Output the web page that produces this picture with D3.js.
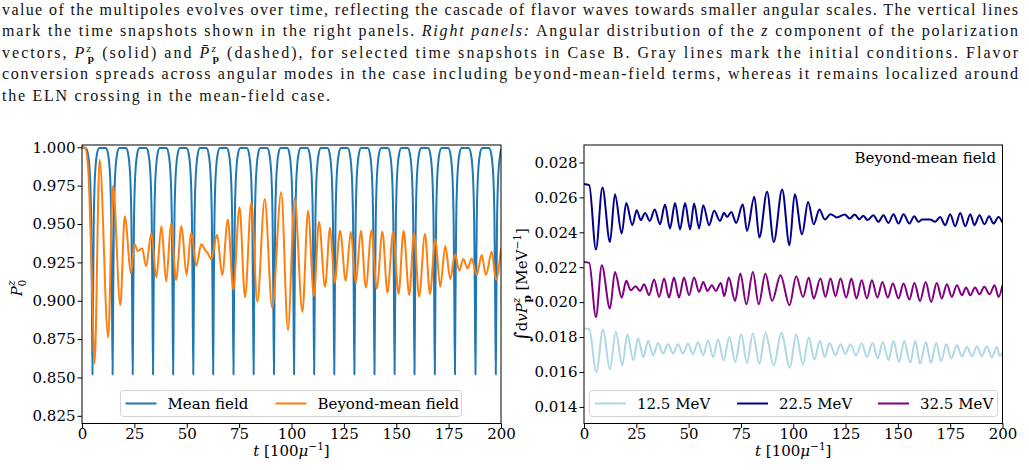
<!DOCTYPE html>
<meta charset="utf-8">
<title>Multipole evolution and energy-integrated polarization</title>
<style>
    body {
        margin: 0;
        background: #fff;
    }

    svg {
        display: block;
    }
</style>

<body>
    <svg width="1029" height="470"></svg>

    <script src="https://d3js.org/d3.v7.min.js"></script>
    <script>
        // ---- values ----
        const xTicks = [0, 25, 50, 75, 100, 125, 150, 175, 200];
        const leftYTicks = [0.825, 0.85, 0.875, 0.9, 0.925, 0.95, 0.975, 1.0];
        const rightYTicks = [0.014, 0.016, 0.018, 0.020, 0.022, 0.024, 0.026, 0.028];

        // mean field: times of the minima and the shape of one dip (offset in t, P0z)
        const meanFieldDips = [5.0, 14.6, 24.2, 33.9, 43.5, 53.1, 62.6, 72.3, 81.9, 91.6, 101.2,
            110.8, 120.4, 130.0, 139.6, 149.2, 158.7, 168.4, 178.0, 187.8, 197.5];
        const meanFieldDipShape = [[-3.2, 0.9995], [-2.2, 0.996], [-1.5, 0.988], [-1.0, 0.975], [-0.6, 0.95],
            [-0.3, 0.905], [0, 0.852], [0.3, 0.905], [0.6, 0.95], [1.0, 0.975], [1.5, 0.988],
            [2.2, 0.996], [3.2, 0.9995]];

        // beyond-mean field P0z (extrema and a few shoulder points)
        const beyondMF = [[0, 1.0], [1.5, 0.9995], [3.0, 0.985], [4.5, 0.925], [6.0, 0.859], [8.4, 0.992],
            [12.5, 0.876], [14.8, 0.975], [18.3, 0.897], [20.4, 0.955], [23.4, 0.918], [25.0, 0.937],
            [26.6, 0.9325], [28.7, 0.934], [30.6, 0.9225], [33.1, 0.944], [35.5, 0.915], [37.9, 0.9487],
            [40.2, 0.9124], [42.5, 0.9504], [44.9, 0.9135], [47.5, 0.9487], [49.9, 0.9167], [52.1, 0.9443],
            [54.6, 0.9226], [56.9, 0.9369], [58.8, 0.933], [60.0, 0.931], [61.7, 0.927], [64.5, 0.943],
            [66.9, 0.9167], [69.6, 0.953], [72.2, 0.9074], [75.2, 0.9609], [77.8, 0.9022], [80.8, 0.9641],
            [83.7, 0.8993], [87.2, 0.9663], [90.8, 0.8954], [95.1, 0.9707], [98.3, 0.881], [101.5, 0.9667],
            [105.2, 0.8928], [107.9, 0.9587], [110.7, 0.903], [113.1, 0.9515], [116.0, 0.9091], [118.4, 0.9478],
            [120.6, 0.9117], [123.2, 0.9456], [125.9, 0.913], [128.3, 0.945], [130.7, 0.9113], [133.1, 0.9456],
            [135.5, 0.9087], [138.2, 0.946], [140.7, 0.908], [143.4, 0.945], [145.8, 0.9052], [148.5, 0.945],
            [151.1, 0.9044], [153.5, 0.9456], [156.2, 0.9037], [158.5, 0.9443], [160.9, 0.9026], [163.7, 0.9435],
            [166.1, 0.9044], [168.6, 0.9402], [171.0, 0.9091], [173.4, 0.9356], [175.8, 0.914], [178.0, 0.9304],
            [180.1, 0.9196], [182.0, 0.9272], [184.1, 0.9211], [186.0, 0.9276], [188.4, 0.9167], [190.8, 0.9298],
            [192.8, 0.9167], [195.6, 0.932], [197.6, 0.9135], [200, 0.934]];

        // right panel: integrated P^z for three energies
        const e125 = [[0, 0.01849], [2.5, 0.01845], [5.9, 0.016], [9.1, 0.01843], [12.4, 0.01614], [15.2, 0.0183],
            [18.3, 0.01638], [20.7, 0.01816], [23.6, 0.01667], [25.8, 0.01792], [28.4, 0.01686], [30.6, 0.01778],
            [33.1, 0.01696], [35.4, 0.01766], [37.8, 0.01706], [40.2, 0.01759], [42.6, 0.01706], [44.9, 0.01759],
            [47.3, 0.01706], [49.7, 0.01763], [52.1, 0.01702], [54.5, 0.01772], [56.9, 0.01696], [59.3, 0.01781],
            [61.7, 0.01686], [64.1, 0.01786], [66.7, 0.01667], [69.5, 0.01801], [72.3, 0.01657], [75.1, 0.01816],
            [77.9, 0.01652], [80.7, 0.0182], [83.8, 0.01648], [86.7, 0.01824], [90.7, 0.01638], [94.3, 0.01824],
            [98.4, 0.01625], [101.4, 0.01816], [104.6, 0.01644], [107.4, 0.01797], [110.1, 0.01671], [112.7, 0.01778],
            [115.1, 0.01686], [117.3, 0.01766], [120.2, 0.01696], [122.6, 0.01759], [124.9, 0.01702], [127.3, 0.01759],
            [130.0, 0.01696], [132.7, 0.01765], [135.2, 0.01686], [137.9, 0.01766], [140.4, 0.01677], [142.8, 0.01772],
            [145.5, 0.01667], [147.9, 0.01778], [150.6, 0.01657], [153.0, 0.01778], [155.9, 0.01652], [158.3, 0.01778],
            [160.6, 0.01648], [163.4, 0.01772], [165.8, 0.01652], [168.3, 0.01766], [170.7, 0.01663], [173.1, 0.01759],
            [175.5, 0.01677], [178.2, 0.01753], [180.6, 0.0169], [183.0, 0.01743], [185.4, 0.0169], [187.8, 0.01747],
            [190.1, 0.0169], [192.5, 0.01747], [194.9, 0.01686], [197.3, 0.01743], [198.7, 0.0169], [200, 0.0172]];

        const e225 = [[0, 0.02676], [2.5, 0.0267], [5.7, 0.02301], [8.8, 0.02657], [12.4, 0.02345], [14.8, 0.02618],
            [18.0, 0.02393], [20.2, 0.02568], [23.1, 0.02441], [25.2, 0.02527], [27.1, 0.0247], [29.2, 0.02511],
            [31.4, 0.02465], [33.8, 0.02531], [36.3, 0.02446], [38.7, 0.02559], [41.1, 0.02422], [43.5, 0.02568],
            [45.9, 0.02416], [48.3, 0.02568], [50.7, 0.02416], [52.6, 0.02565], [55.0, 0.02422], [57.0, 0.02555],
            [59.8, 0.02441], [62.2, 0.02523], [65.0, 0.02465], [66.9, 0.0251], [68.4, 0.02488], [70.4, 0.02517],
            [72.7, 0.02454], [75.9, 0.02561], [77.9, 0.02408], [81.4, 0.02603], [83.8, 0.0237], [87.5, 0.02632],
            [90.7, 0.02345], [94.7, 0.02645], [98.2, 0.02326], [100.7, 0.02618], [104.2, 0.02389], [107.1, 0.02574],
            [109.8, 0.02446], [112.5, 0.02531], [115.1, 0.02473], [117.8, 0.02504], [120.9, 0.02485], [124.6, 0.02502],
            [127.0, 0.02479], [129.4, 0.02502], [131.6, 0.02475], [133.5, 0.02495], [135.5, 0.0247], [138.3, 0.02498],
            [140.7, 0.0246], [143.1, 0.02498], [145.5, 0.02454], [147.9, 0.02504], [150.3, 0.0245], [152.7, 0.02504],
            [155.5, 0.0245], [157.8, 0.02492], [159.8, 0.0246], [161.6, 0.02473], [165.4, 0.02473], [167.8, 0.0246],
            [170.2, 0.02488], [172.6, 0.02441], [175.0, 0.02504], [177.4, 0.02435], [179.8, 0.02511], [182.2, 0.02435],
            [184.6, 0.02504], [186.6, 0.02441], [189.0, 0.02498], [191.4, 0.02446], [193.6, 0.02492], [195.7, 0.0245],
            [198.1, 0.02488], [200, 0.02454]];

        const e325 = [[0, 0.0223], [2.5, 0.02225], [5.7, 0.01915], [8.5, 0.02211], [12.4, 0.01963], [14.8, 0.02173],
            [18.0, 0.02026], [20.2, 0.02122], [22.3, 0.02068], [24.7, 0.02091], [26.8, 0.02064], [28.7, 0.02103],
            [31.1, 0.0204], [33.5, 0.0213], [35.9, 0.0203], [38.3, 0.02135], [40.6, 0.02026], [43.0, 0.02141],
            [45.4, 0.02026], [47.8, 0.02141], [50.2, 0.0204], [52.6, 0.02141], [55.0, 0.02059], [57.0, 0.02116],
            [59.0, 0.02064], [61.1, 0.02097], [63.0, 0.02064], [65.4, 0.0211], [67.0, 0.02034], [69.2, 0.02141],
            [72.2, 0.02007], [74.7, 0.02164], [77.6, 0.01988], [80.7, 0.02173], [83.5, 0.01988], [86.7, 0.02164],
            [89.9, 0.02007], [93.9, 0.02154], [98.2, 0.01982], [101.4, 0.02148], [104.7, 0.0203], [107.4, 0.02141],
            [109.8, 0.02021], [113.0, 0.02135], [115.4, 0.0203], [117.8, 0.02135], [120.2, 0.02034], [122.6, 0.02135],
            [125.3, 0.02026], [127.8, 0.02135], [130.2, 0.02021], [132.7, 0.02125], [135.2, 0.02021], [137.6, 0.02126],
            [140.2, 0.02026], [142.6, 0.02116], [145.2, 0.02026], [147.6, 0.02107], [150.3, 0.02021], [152.7, 0.02107],
            [155.5, 0.02015], [157.9, 0.0211], [160.6, 0.02007], [163.3, 0.02116], [165.9, 0.02001], [168.6, 0.0211],
            [171.0, 0.02021], [173.4, 0.02103], [175.8, 0.0203], [178.2, 0.02097], [180.6, 0.0204], [182.6, 0.02084],
            [184.6, 0.0204], [186.9, 0.02084], [189.0, 0.02045], [191.3, 0.02088], [193.8, 0.02045], [196.2, 0.02097],
            [198.1, 0.0203], [200, 0.02097]];

        const leftSeries = [
            { name: "Mean field", color: "#1f77b4" },
            { name: "Beyond-mean field", color: "#ff7f0e", data: beyondMF }
        ];
        const rightSeries = [
            { name: "12.5 MeV", color: "#add8e6", data: e125 },
            { name: "22.5 MeV", color: "#00008b", data: e225 },
            { name: "32.5 MeV", color: "#800080", data: e325 }
        ];

        // build the mean-field curve from the dip times and the dip profile
        const meanField = [[0, 1.0]];
        meanFieldDips.forEach(t0 => {
            meanFieldDipShape.forEach(([dt, v]) => {
                const t = t0 + dt;
                if (t > 0 && t <= 200) meanField.push([t, v]);
            });
        });
        meanField.push([200, 0.999]);
        leftSeries[0].data = meanField;

        const svg = d3.select("svg");
        const serif = "DejaVu Serif";

        // ---- caption text above the plots ----
        function addRuns(sel, runs) {
            runs.forEach(r => {
                const ts = sel.append("tspan").text(r.t);
                if (r.i) ts.attr("font-style", "italic");
                if (r.b) ts.attr("font-weight", "bold");
                if (r.s) ts.attr("font-size", r.s);
                if (r.dx) ts.attr("dx", r.dx);
                if (r.dy) ts.attr("dy", r.dy);
            });
        }

        const captionLines = [
            [{ t: "value of the multipoles evolves over time, reflecting the cascade of flavor waves towards smaller angular scales. The vertical lines" }],
            [{ t: "mark the time snapshots shown in the right panels. " }, { t: "Right panels:", i: 1 },
            { t: " Angular distribution of the " }, { t: "z", i: 1 }, { t: " component of the polarization" }],
            [{ t: "vectors, " }, { t: "P", i: 1 }, { t: "z", i: 1, s: "0.7em", dy: -6 }, { t: "p", b: 1, s: "0.7em", dx: -5, dy: 10 },
            { t: " (solid) and ", dy: -4 }, { t: "P\u0304", i: 1 }, { t: "z", i: 1, s: "0.7em", dy: -6 },
            { t: "p", b: 1, s: "0.7em", dx: -5, dy: 10 },
            { t: " (dashed), for selected time snapshots in Case B. Gray lines mark the initial conditions. Flavor", dy: -4 }],
            [{ t: "conversion spreads across angular modes in the case including beyond-mean-field terms, whereas it remains localized around" }],
            [{ t: "the ELN crossing in the mean-field case." }]
        ];
        const captionWidths = [1016, 1016, 1016, 1016, 328];

        const cap = svg.append("g")
            .attr("font-family", "Liberation Serif")
            .attr("font-size", 16)
            .attr("fill", "#111");

        captionLines.forEach((runs, i) => {
            const txt = cap.append("text")
                .attr("x", 2)
                .attr("y", 15 + 21.4 * i)
                .attr("textLength", captionWidths[i])
                .attr("lengthAdjust", "spacing");
            addRuns(txt, runs);
        });

        // ---- panels ----
        function panel(opt) {
            const { x, y, yTicks, yFormat, series, id } = opt;
            const g = svg.append("g");

            g.append("clipPath").attr("id", id)
                .append("rect")
                .attr("x", x.range()[0]).attr("y", y.range()[1])
                .attr("width", x.range()[1] - x.range()[0])
                .attr("height", y.range()[0] - y.range()[1]);

            const line = d3.line()
                .x(d => x(d[0]))
                .y(d => y(d[1]))
                .curve(d3.curveMonotoneX);

            g.append("g").attr("clip-path", `url(#${id})`)
                .selectAll("path")
                .data(series)
                .join("path")
                .attr("d", d => line(d.data))
                .attr("fill", "none")
                .attr("stroke", d => d.color)
                .attr("stroke-width", 2)
                .attr("stroke-linejoin", "round");

            const xAxis = g.append("g")
                .attr("transform", `translate(0,${y.range()[0]})`)
                .call(d3.axisBottom(x).tickValues(xTicks).tickSize(4.5).tickPadding(0.5).tickFormat(d3.format("d")));
            const yAxis = g.append("g")
                .attr("transform", `translate(${x.range()[0]},0)`)
                .call(d3.axisLeft(y).tickValues(yTicks).tickSize(4.5).tickPadding(2).tickFormat(yFormat));

            [xAxis, yAxis].forEach(a => {
                a.attr("font-family", serif).attr("font-size", 15);
                a.select(".domain").remove();
                a.selectAll("line").attr("stroke", "#000").attr("stroke-width", 1);
                a.selectAll("text").attr("fill", "#000");
            });

            g.append("rect")
                .attr("x", x.range()[0]).attr("y", y.range()[1])
                .attr("width", x.range()[1] - x.range()[0])
                .attr("height", y.range()[0] - y.range()[1])
                .attr("fill", "none")
                .attr("stroke", "#000")
                .attr("stroke-width", 1);

            // x label: t [100 mu^-1]
            const xl = g.append("text")
                .attr("x", (x.range()[0] + x.range()[1]) / 2)
                .attr("y", 456)
                .attr("text-anchor", "middle")
                .attr("font-family", serif)
                .attr("font-size", 15);
            addRuns(xl, [{ t: "t", i: 1 }, { t: " [100" }, { t: "μ", i: 1 }, { t: "−1", s: 10.5, dy: -6 }, { t: "]", dy: 6 }]);

            return g;
        }

        function legend(g, items, box, slots) {
            const lg = g.append("g");
            lg.append("rect")
                .attr("x", box[0]).attr("y", box[1])
                .attr("width", box[2]).attr("height", box[3])
                .attr("rx", 3)
                .attr("fill", "#fff").attr("fill-opacity", 0.8)
                .attr("stroke", "#d3d3d3").attr("stroke-width", 1);
            const cy = box[1] + box[3] / 2;
            items.forEach((s, i) => {
                const x0 = slots[i];
                lg.append("line")
                    .attr("x1", x0).attr("x2", x0 + 31)
                    .attr("y1", cy).attr("y2", cy)
                    .attr("stroke", s.color).attr("stroke-width", 2);
                lg.append("text")
                    .attr("x", x0 + 42).attr("y", cy + 5.5)
                    .attr("font-family", serif).attr("font-size", 15)
                    .text(s.name);
            });
        }

        // left panel
        const xL = d3.scaleLinear().domain([0, 200]).range([82, 501]);
        const yL = d3.scaleLinear().domain([0.8200, 1.0015]).range([423.5, 145]);
        const gL = panel({ x: xL, y: yL, yTicks: leftYTicks, yFormat: d3.format(".3f"), series: leftSeries, id: "clipL" });
        legend(gL, leftSeries, [120.5, 390.5, 341, 26], [125.5, 275.5]);

        const ylL = gL.append("text")
            .attr("transform", "translate(22,288) rotate(-90)")
            .attr("text-anchor", "middle")
            .attr("font-family", serif)
            .attr("font-size", 15);
        addRuns(ylL, [{ t: "P", i: 1 }, { t: "z", i: 1, s: 10.5, dy: -7 }, { t: "0", s: 10.5, dx: -6, dy: 11 }]);

        // right panel
        const xR = d3.scaleLinear().domain([0, 200]).range([584, 1002.5]);
        const yR = d3.scaleLinear().domain([0.01305, 0.0290]).range([423.5, 145]);
        const gR = panel({ x: xR, y: yR, yTicks: rightYTicks, yFormat: d3.format(".3f"), series: rightSeries, id: "clipR" });
        legend(gR, rightSeries, [589.5, 390.5, 408, 26], [595, 737, 878]);

        gR.append("text")
            .attr("x", 996).attr("y", 162.5)
            .attr("text-anchor", "end")
            .attr("font-family", serif)
            .attr("font-size", 15)
            .text("Beyond-mean field");

        const ylR = gR.append("text")
            .attr("transform", "translate(527,285) rotate(-90)")
            .attr("text-anchor", "middle")
            .attr("font-family", serif)
            .attr("font-size", 15);
        addRuns(ylR, [{ t: "∫", s: 20, dy: 2 }, { t: "d", dy: -2 }, { t: "v", i: 1 }, { t: "P", i: 1 }, { t: "z", i: 1, s: 10.5, dy: -7 },
        { t: "p", b: 1, s: 10.5, dx: -5, dy: 11 }, { t: " [MeV", dy: -4 }, { t: "−1", s: 10.5, dy: -6 }, { t: "]", dy: 6 }]);
    </script>
</body>

</html>
